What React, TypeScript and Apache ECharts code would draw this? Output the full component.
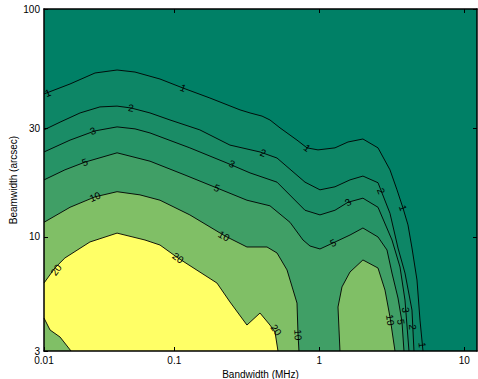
import React, { useEffect, useRef } from 'react';
import * as echarts from 'echarts';

// Axis extents (bandwidth in MHz, beamwidth in arcsec)
const BANDWIDTH_EXTENT = [0.01263, 12.24];
const BEAMWIDTH_EXTENT = [3.162, 100];
const BW0 = BANDWIDTH_EXTENT[0];
const BM0 = BEAMWIDTH_EXTENT[0];

// Tick positions and their labels
const xTickValues = [BW0, 0.1, 1, 10];
const xTickLabels = ['0.01', '0.1', '1', '10'];
const yTickValues = [BM0, 10, 30, 100];
const yTickLabels = ['3', '10', '30', '100'];

// Contour levels and fill colours (lowest band first)
const levels = [1, 2, 3, 5, 10, 20];
const bandColors = ['#008066', '#0D8666', '#1A8C66', '#269366', '#409F66', '#80BF66', '#FFFF66'];

// Contour lines, [bandwidth, beamwidth]
const contour1 = [
  [BW0, 42.4], [0.0191, 46.9], [0.0284, 52.4], [0.0403, 54.0], [0.0536, 52.9], [0.0797, 49.3],
  [0.115, 45.0], [0.176, 40.7], [0.284, 36.1], [0.333, 35.0], [0.403, 33.9], [0.457, 32.6],
  [0.536, 30.1], [0.702, 26.6], [0.823, 24.6], [0.98, 24.1], [1.283, 24.6], [1.577, 26.1],
  [2.0, 26.9], [2.541, 24.6], [3.073, 19.7], [3.435, 16.1], [3.778, 13.4], [4.09, 11.3],
  [4.358, 8.95], [4.719, 6.48], [4.95, 4.32], [5.191, BM0],
];
const contour2 = [
  [BW0, 29.5], [0.0163, 31.9], [0.0224, 35.0], [0.0307, 37.2], [0.0403, 37.5], [0.0503, 36.8],
  [0.068, 35.0], [0.0934, 32.6], [0.15, 29.5], [0.242, 25.3], [0.39, 23.6], [0.511, 22.2],
  [0.797, 17.4], [1.011, 16.1], [1.283, 16.6], [1.628, 17.8], [2.0, 18.5], [2.541, 17.3],
  [3.073, 12.7], [3.49, 8.95], [3.9, 6.95], [4.358, 4.78], [4.499, BM0],
];
const contour3 = [
  [BW0, 23.6], [0.0191, 26.6], [0.0284, 29.2], [0.0403, 30.4], [0.0536, 29.8], [0.068, 28.6],
  [0.128, 24.6], [0.231, 21.1], [0.333, 19.1], [0.511, 17.4], [0.797, 13.1], [1.011, 12.5],
  [1.283, 13.1], [1.577, 14.2], [2.0, 14.8], [2.541, 13.5], [3.172, 9.7], [3.603, 7.39],
  [3.9, 5.29], [4.156, BM0],
];
const contour5 = [
  [BW0, 17.8], [0.0176, 19.7], [0.0242, 21.3], [0.0403, 23.4], [0.068, 21.5], [0.1185, 18.7],
  [0.197, 16.4], [0.317, 14.5], [0.457, 13.7], [0.628, 11.6], [0.772, 9.7], [0.863, 9.13],
  [1.011, 8.86], [1.243, 9.41], [1.628, 10.2], [2.0, 10.95], [2.541, 10.0], [2.931, 8.77],
  [3.172, 6.95], [3.49, 5.4], [3.719, 4.24], [3.838, BM0],
];
const contour10 = [
  [BW0, 11.6], [0.0191, 13.5], [0.0284, 15.0], [0.0403, 15.8], [0.058, 15.3], [0.0797, 14.5],
  [0.128, 12.5], [0.224, 10.1], [0.317, 9.04], [0.436, 9.04], [0.511, 8.51], [0.599, 7.17],
  [0.702, 5.13], [0.713, 3.79], [0.724, BM0],
];
const contour10Island = [
  [1.389, BM0], [1.346, 4.93], [1.434, 6.04], [1.628, 7.02], [2.0, 7.93], [2.541, 7.31],
  [2.839, 5.85], [3.073, 4.46], [3.327, BM0],
];
const contour20 = [
  [BW0, 6.28], [0.015, 7.31], [0.0176, 8.09], [0.0262, 9.51], [0.0403, 10.4], [0.0628, 9.7],
  [0.0797, 9.22], [0.106, 8.09], [0.197, 6.28], [0.242, 5.19], [0.317, 4.11], [0.39, 4.64],
  [0.457, 4.11], [0.495, 3.83], [0.519, BM0],
];
const contour20Corner = [
  [BW0, 4.41], [0.0139, 3.91], [0.0163, 3.64], [0.0194, BM0],
];

// In-line contour labels: [level, bandwidth, beamwidth]
const labelSpots = [
  [1, 0.0134, 42.8], [1, 0.115, 45.0], [1, 0.823, 24.6], [1, 3.778, 13.4], [1, 5.13, 3.36],
  [2, 0.0503, 36.8], [2, 0.409, 23.4], [2, 2.665, 15.9], [2, 4.41, 4.03],
  [3, 0.0275, 29.2], [3, 0.25, 20.9], [3, 1.577, 14.2], [3, 3.95, 4.78],
  [5, 0.0242, 21.3], [5, 0.197, 16.4], [5, 1.243, 9.41], [5, 3.661, 4.24],
  [10, 0.0284, 15.0], [10, 0.22, 10.1], [10, 0.713, 3.72], [10, 3.09, 4.32],
  [20, 0.0153, 7.17], [20, 0.106, 8.09], [20, 0.503, 3.91],
];

const lg = Math.log10;
const corner = [BW0, BM0];

const contourLines = [
  { level: 1, points: contour1 },
  { level: 2, points: contour2 },
  { level: 3, points: contour3 },
  { level: 5, points: contour5 },
  { level: 10, points: contour10 },
  { level: 10, points: contour10Island },
  { level: 20, points: contour20 },
  { level: 20, points: contour20Corner },
];

// Regions at or above each level, painted from lowest to highest
const fillRegions = [
  { color: bandColors[1], polygons: [[...contour1, corner]] },
  { color: bandColors[2], polygons: [[...contour2, corner]] },
  { color: bandColors[3], polygons: [[...contour3, corner]] },
  { color: bandColors[4], polygons: [[...contour5, corner]] },
  { color: bandColors[5], polygons: [[...contour10, corner], contour10Island] },
  { color: bandColors[6], polygons: [[...contour20, ...contour20Corner.slice().reverse()]] },
];

const FONT = '"Liberation Sans", Arial, Helvetica, sans-serif';

const renderContours = (_params: any, api: any) => {
  const toPx = (p: number[]) => api.coord([lg(p[0]), lg(p[1])]);
  const children: any[] = [];
  fillRegions.forEach((region) => {
    region.polygons.forEach((poly) => {
      children.push({
        type: 'polygon',
        shape: { points: poly.map(toPx) },
        style: { fill: region.color },
      });
    });
  });
  const linesPx = contourLines.map((c) => ({ level: c.level, pts: c.points.map(toPx) }));
  linesPx.forEach((c) => {
    children.push({
      type: 'polyline',
      shape: { points: c.pts },
      style: { stroke: '#000', lineWidth: 0.9, fill: null },
    });
  });
  labelSpots.forEach(([level, bw, bm]) => {
    const p = toPx([bw, bm]);
    let best = Infinity;
    let angle = 0;
    linesPx
      .filter((c) => c.level === level)
      .forEach((c) => {
        for (let i = 0; i < c.pts.length - 1; i++) {
          const a = c.pts[i];
          const b = c.pts[i + 1];
          const dx = b[0] - a[0];
          const dy = b[1] - a[1];
          const len2 = dx * dx + dy * dy || 1;
          let t = ((p[0] - a[0]) * dx + (p[1] - a[1]) * dy) / len2;
          t = Math.max(0, Math.min(1, t));
          const qx = a[0] + t * dx - p[0];
          const qy = a[1] + t * dy - p[1];
          const d = qx * qx + qy * qy;
          if (d < best) {
            best = d;
            angle = Math.atan2(dy, dx);
          }
        }
      });
    let rot = -angle;
    while (rot > Math.PI / 2) rot -= Math.PI;
    while (rot <= -Math.PI / 2) rot += Math.PI;
    children.push({
      type: 'text',
      x: p[0],
      y: p[1],
      rotation: rot,
      style: {
        text: String(level),
        fill: '#000',
        fontSize: 10,
        fontFamily: FONT,
        align: 'center',
        verticalAlign: 'middle',
      },
    });
  });
  return { type: 'group', children };
};

const labelFor = (values: number[], labels: string[]) => (v: number) => {
  const i = values.findIndex((t) => Math.abs(lg(t) - v) < 1e-6);
  return i >= 0 ? labels[i] : '';
};

const axisLine = { show: true, onZero: false, lineStyle: { color: '#000', width: 1.5 } };
const tickStyle = { show: true, inside: true, length: 4, lineStyle: { color: '#000', width: 1 } };

const xBase = {
  type: 'value',
  min: lg(BANDWIDTH_EXTENT[0]),
  max: lg(BANDWIDTH_EXTENT[1]),
  splitLine: { show: false },
  axisLine,
  z: 10,
};
const yBase = {
  type: 'value',
  min: lg(BEAMWIDTH_EXTENT[0]),
  max: lg(BEAMWIDTH_EXTENT[1]),
  splitLine: { show: false },
  axisLine,
  z: 10,
};

const option: any = {
  animation: false,
  backgroundColor: '#fff',
  grid: {
    left: 44,
    top: 9,
    right: 1,
    bottom: 28,
    outerBoundsMode: 'none',
    containLabel: false,
    show: true,
    backgroundColor: bandColors[0],
    borderWidth: 0,
  },
  xAxis: [
    {
      ...xBase,
      position: 'bottom',
      axisTick: { ...tickStyle, customValues: xTickValues.map(lg) },
      axisLabel: {
        customValues: xTickValues.map(lg),
        formatter: labelFor(xTickValues, xTickLabels),
        color: '#000',
        fontSize: 10,
        fontFamily: FONT,
        margin: 4,
      },
      name: 'Bandwidth (MHz)',
      nameLocation: 'middle',
      nameGap: 15,
      nameTextStyle: { color: '#000', fontSize: 10, fontFamily: FONT },
    },
    {
      ...xBase,
      position: 'top',
      axisTick: { ...tickStyle, customValues: xTickValues.slice(1).map(lg) },
      axisLabel: { show: false },
    },
  ],
  yAxis: [
    {
      ...yBase,
      position: 'left',
      axisTick: { ...tickStyle, customValues: yTickValues.map(lg) },
      axisLabel: {
        customValues: yTickValues.map(lg),
        formatter: labelFor(yTickValues, yTickLabels),
        color: '#000',
        fontSize: 10,
        fontFamily: FONT,
        margin: 4,
      },
      name: 'Beamwidth (arcsec)',
      nameLocation: 'middle',
      nameGap: 26,
      nameMoveOverlap: false,
      nameTextStyle: { color: '#000', fontSize: 10, fontFamily: FONT },
    },
    {
      ...yBase,
      position: 'right',
      axisTick: { ...tickStyle, customValues: yTickValues.slice(1).map(lg) },
      axisLabel: { show: false },
    },
  ],
  series: [
    {
      type: 'custom',
      coordinateSystem: 'cartesian2d',
      xAxisIndex: 0,
      yAxisIndex: 0,
      silent: true,
      z: 2,
      data: [[0, 1]],
      renderItem: renderContours,
    },
  ],
};

export default function App() {
  const ref = useRef<HTMLDivElement>(null);
  useEffect(() => {
    const chart = echarts.init(ref.current!, null, { renderer: 'svg' });
    chart.setOption(option);
    return () => chart.dispose();
  }, []);
  return (
    <div
      ref={ref}
      style={{ position: 'absolute', left: 0, top: 0, width: 478, height: 379, background: '#fff' }}
    />
  );
}
